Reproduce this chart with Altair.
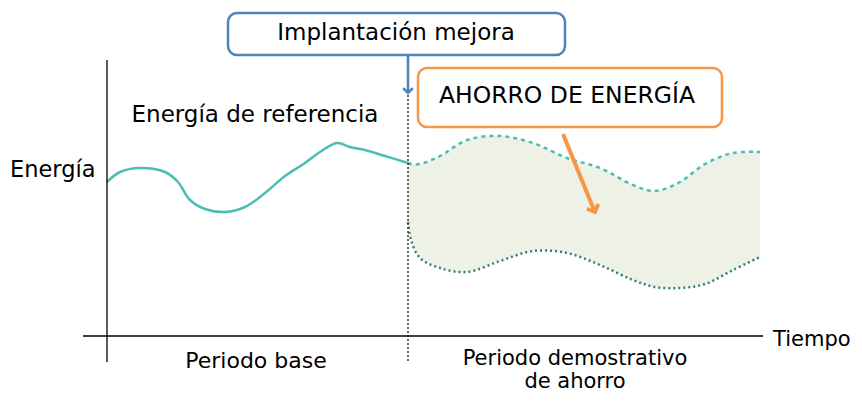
import altair as alt
import pandas as pd

# ---- data ----
base_x = [107, 120, 140, 165, 178, 190, 205, 225, 245, 265, 285, 305, 320, 337, 350, 365, 385, 408]
base_y = [182, 172, 168, 172, 182, 200, 209, 212, 207, 193, 176, 163, 152, 143, 147, 150, 156, 163]

save_x = [408, 411, 420, 440, 467, 500, 533, 567, 600, 633, 655, 680, 705, 733, 760]
upper_y = [163, 164, 164, 156, 140, 136, 143, 158, 168, 185, 191, 182, 164, 153, 152]
lower_y = [222, 240, 258, 268, 272, 261, 251, 253, 265, 280, 287, 288, 284, 270, 257]

FONT = "DejaVu Sans"
TEAL = "#4bbdb5"
DARK_TEAL = "#2f7f78"
FILL = "#eef1e6"
ORANGE = "#f79646"
BLUE = "#4f81bd"

W, H = 846, 385
xs = alt.Scale(domain=[8, 8 + W], nice=False, zero=False)
ys = alt.Scale(domain=[8, 8 + H], nice=False, zero=False, reverse=True)

base_df = pd.DataFrame({"x": base_x, "y": base_y})
save_df = pd.DataFrame({"x": save_x, "up": upper_y, "lo": lower_y})

X = lambda f: alt.X(f, type="quantitative", scale=xs, axis=None)
Y = lambda f: alt.Y(f, type="quantitative", scale=ys, axis=None)

INTERP = "catmull-rom"
area = alt.Chart(save_df).mark_area(color=FILL, interpolate=INTERP, opacity=1).encode(
    x=X("x"), y=Y("up"), y2="lo:Q")
upper = alt.Chart(save_df).mark_line(color=TEAL, strokeWidth=2.5, strokeDash=[4, 4],
                                     interpolate=INTERP).encode(x=X("x"), y=Y("up"))
lower = alt.Chart(save_df).mark_line(color=DARK_TEAL, strokeWidth=2.5, strokeDash=[2, 3],
                                     interpolate=INTERP).encode(x=X("x"), y=Y("lo"))
base = alt.Chart(base_df).mark_line(color=TEAL, strokeWidth=2.5, interpolate=INTERP).encode(
    x=X("x"), y=Y("y"))

one = alt.Data(values=[{}])
P = lambda v: alt.value(v - 8)


def rule(x1, y1, x2, y2, color="#000", width=1.5, dash=None):
    kw = dict(color=color, strokeWidth=width)
    if dash:
        kw["strokeDash"] = dash
    return alt.Chart(one).mark_rule(**kw).encode(x=P(x1), y=P(y1), x2=P(x2), y2=P(y2))


def text(s, x, y, size=23, align="center", baseline="middle"):
    return alt.Chart(one).mark_text(text=s, font=FONT, fontSize=size, color="#000",
                                    align=align, baseline=baseline).encode(x=P(x), y=P(y))


def box(x1, y1, x2, y2, color):
    return alt.Chart(one).mark_rect(fill="white", stroke=color, strokeWidth=2.5,
                                    cornerRadius=9).encode(x=P(x1), y=P(y1), x2=P(x2), y2=P(y2))


chevron = "M-1,-1L0,0L1,-1"


def head(x, y, color, angle, size=120, width=3):
    return alt.Chart(one).mark_point(shape=chevron, filled=False, stroke=color, strokeWidth=width,
                                     size=size, angle=angle, opacity=1).encode(x=P(x), y=P(y))


layers = [
    area, upper, lower, base,
    rule(107, 60, 107, 362, "#000", 1.3),
    rule(83, 336, 763, 336, "#000", 1.3),
    rule(408, 55, 408, 362, "#333", 1.5, [2, 2]),
    rule(408, 55, 408, 92, BLUE, 2.5),
    head(408, 93, BLUE, 0, 90, 2.5),
    rule(563, 134, 594, 210, ORANGE, 4),
    head(595, 212, ORANGE, 337, 150, 4),
    box(228, 13, 565, 55, BLUE),
    box(418, 68, 722, 127, ORANGE),
    text("Implantación mejora", 396, 33),
    text("AHORRO DE ENERGÍA", 567, 96, 23.5),
    text("Energía de referencia", 255, 115),
    text("Energía", 10, 170, 22.5, "left"),
    text("Tiempo", 773, 340, 21, "left"),
    text("Periodo base", 256, 361, 22),
    text("Periodo demostrativo", 575, 359, 21),
    text("de ahorro", 575, 382, 21),
]

chart = alt.layer(*layers).properties(
    width=W, height=H, padding=0, autosize=alt.AutoSizeParams(type="none"),
    background="white"
).configure_view(stroke=None)

chart.save("out.html", embed_options={"renderer": "svg", "actions": False})
